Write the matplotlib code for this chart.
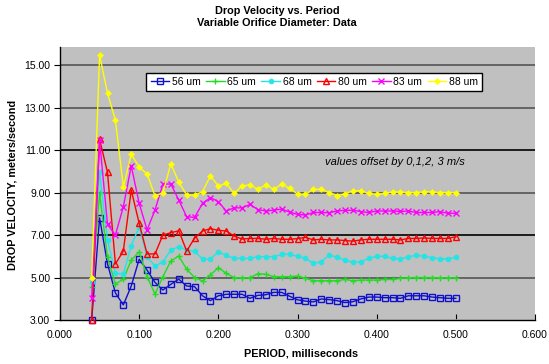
import numpy as np
import matplotlib
matplotlib.use("Agg")
import matplotlib.pyplot as plt
from matplotlib.ticker import FormatStrFormatter

plt.rcParams['font.family'] = ['Liberation Sans', 'DejaVu Sans']

period = [round(0.04 + 0.01 * i, 2) for i in range(47)]

v56 = [3.0, 7.81, 5.64, 4.27, 3.71, 4.6, 5.86, 5.35, 4.77, 4.41, 4.68, 4.92, 4.6, 4.57,
       4.14, 3.91, 4.14, 4.21, 4.21, 4.21, 4.02, 4.16, 4.19, 4.3, 4.3, 4.12, 3.95,
       3.89, 3.85, 3.99, 3.96, 3.91, 3.82, 3.86, 3.99, 4.08, 4.08, 4.05, 4.05, 4.02,
       4.14, 4.14, 4.14, 4.08, 4.05, 4.02, 4.02]
v65 = [4.54, 8.96, 5.95, 4.69, 4.92, 5.82, 6.21, 5.04, 4.22, 5.04, 5.78, 6.01, 5.39, 5.0,
       4.84, 5.12, 5.46, 5.2, 4.99, 4.99, 4.99, 5.18, 5.15, 5.04, 5.04, 5.04, 5.07,
       4.96, 4.85, 4.85, 4.85, 4.85, 4.91, 4.85, 4.88, 4.88, 4.88, 4.91, 4.91, 4.96,
       4.99, 5.0, 5.0, 5.0, 4.99, 4.99, 4.99]
v68 = [4.8, 9.98, 6.76, 5.2, 5.16, 6.5, 7.39, 5.98, 5.54, 5.74, 6.29, 6.45, 6.29, 6.23,
       5.87, 5.87, 6.21, 6.04, 5.9, 5.9, 5.9, 5.98, 5.98, 5.98, 6.09, 6.09, 6.0,
       5.9, 5.67, 5.74, 6.06, 5.95, 5.82, 5.71, 5.74, 5.9, 6.0, 6.0, 5.9, 5.87,
       5.98, 6.04, 6.0, 5.93, 5.88, 5.88, 5.95]
v80 = [3.0, 11.5, 9.95, 5.64, 6.25, 9.12, 7.55, 6.11, 6.11, 7.0, 7.11, 7.2, 6.25, 6.85,
       7.19, 7.3, 7.22, 7.19, 6.95, 6.81, 6.84, 6.84, 6.8, 6.84, 6.8, 6.8, 6.83,
       6.89, 6.77, 6.8, 6.77, 6.77, 6.74, 6.71, 6.77, 6.8, 6.8, 6.8, 6.8, 6.77,
       6.84, 6.84, 6.86, 6.84, 6.84, 6.84, 6.92]
v83 = [4.02, 11.45, 7.5, 7.0, 8.33, 10.25, 8.49, 7.24, 8.18, 9.4, 9.4, 8.65, 7.86, 7.83,
       8.49, 8.76, 8.57, 8.13, 8.28, 8.28, 8.44, 8.2, 8.13, 8.17, 8.22, 8.08, 7.97,
       7.94, 8.06, 8.06, 8.05, 8.13, 8.16, 8.17, 8.1, 8.06, 8.13, 8.13, 8.13, 8.11,
       8.13, 8.06, 8.06, 8.06, 8.1, 8.02, 8.02]
v88 = [5.0, 15.47, 13.67, 12.41, 9.27, 10.8, 10.2, 9.87, 8.84, 8.99, 10.35, 9.5, 8.88, 8.88,
       9.04, 9.78, 9.31, 9.43, 8.96, 9.31, 9.36, 9.15, 9.36, 9.15, 9.39, 9.2, 8.93,
       8.91, 9.15, 9.15, 9.0, 8.86, 8.94, 9.08, 9.08, 8.96, 8.91, 8.96, 9.03, 9.02,
       9.0, 9.0, 9.03, 9.03, 9.0, 9.0, 9.0]

series_labels = ["56 um", "65 um", "68 um", "80 um", "83 um", "88 um"]
y_ticks = [3, 5, 7, 9, 11, 13, 15]
x_ticks = [0.0, 0.1, 0.2, 0.3, 0.4, 0.5, 0.6]

W, H = 549, 364
fig = plt.figure(figsize=(W / 100, H / 100), dpi=100)
fig.patch.set_facecolor('white')
L, R, T, B = 60, 535, 47, 320
ax = fig.add_axes([L / W, 1 - B / H, (R - L) / W, (B - T) / H])
ax.set_facecolor('#C0C0C0')

styles = [
    dict(color='#1010CC', marker='s', mfc='none', mec='#1010CC', ms=4, mew=1.0),
    dict(color='#22DD22', marker='+', ms=5, mew=1.0),
    dict(color='#22E5E5', marker='o', mfc='#22E5E5', ms=3.5, mew=0.5),
    dict(color='#FF0000', marker='^', mfc='none', mec='#FF0000', ms=4, mew=1.0),
    dict(color='#FF00FF', marker='x', ms=4, mew=1.0),
    dict(color='#FFFF00', marker='D', mfc='#FFFF00', ms=3, mew=0.5),
]
for vals, lab, st in zip([v56, v65, v68, v80, v83, v88], series_labels, styles):
    ax.plot(period, vals, lw=1.0, label=lab, clip_on=False, zorder=3, **st)

ax.set_xlim(0, 0.6)
ax.set_ylim(3, 15.85)
ax.set_xticks(x_ticks)
ax.set_yticks(y_ticks)
ax.xaxis.set_major_formatter(FormatStrFormatter('%.3f'))
ax.yaxis.set_major_formatter(FormatStrFormatter('%.2f'))
ax.tick_params(axis='x', direction='in', length=4, labelsize=7.5, pad=7, color='black')
ax.tick_params(axis='y', direction='out', length=4, labelsize=7.5, pad=3, color='black')

ax.yaxis.grid(True, lw=1.2)
ax.set_axisbelow(True)
grid_cols = {3: '#C0C0C0', 5: '#555555', 7: '#000000', 9: '#555555', 11: '#000000', 13: '#555555', 15: '#555555'}
for gl, t in zip(ax.get_ygridlines(), y_ticks):
    gl.set_color(grid_cols[t])

for s in ['top', 'right']:
    ax.spines[s].set_visible(False)
for s in ['left', 'bottom']:
    ax.spines[s].set_color('black')
    ax.spines[s].set_linewidth(1.0)

leg = ax.legend(loc='upper left', bbox_to_anchor=(0.182, 0.905), ncol=6, fontsize=7.5,
                frameon=True, fancybox=False, edgecolor='black', framealpha=1,
                handlelength=1.8, handletextpad=0.25, columnspacing=0.5,
                borderpad=0.4, borderaxespad=0)
leg.get_frame().set_linewidth(1.0)

ax.text(0.557, 0.579, "values offset by 0,1,2, 3 m/s", transform=ax.transAxes,
        fontsize=8, style='italic', va='center', ha='left')

fig.text(0.505, 1 - 11 / H, "Drop Velocity vs. Period", ha='center', va='center',
         fontsize=7.8, fontweight='bold')
fig.text(0.505, 1 - 23 / H, "Variable Orifice Diameter: Data", ha='center', va='center',
         fontsize=7.8, fontweight='bold')
fig.text(0.548, 1 - 353 / H, "PERIOD, milliseconds", ha='center', va='center',
         fontsize=7.8, fontweight='bold')
fig.text(13 / W, 1 - 185 / H, "DROP VELOCITY, meters/second", ha='center', va='center',
         rotation=90, fontsize=7.8, fontweight='bold')

fig.savefig('out.png', dpi=100, facecolor='white')
